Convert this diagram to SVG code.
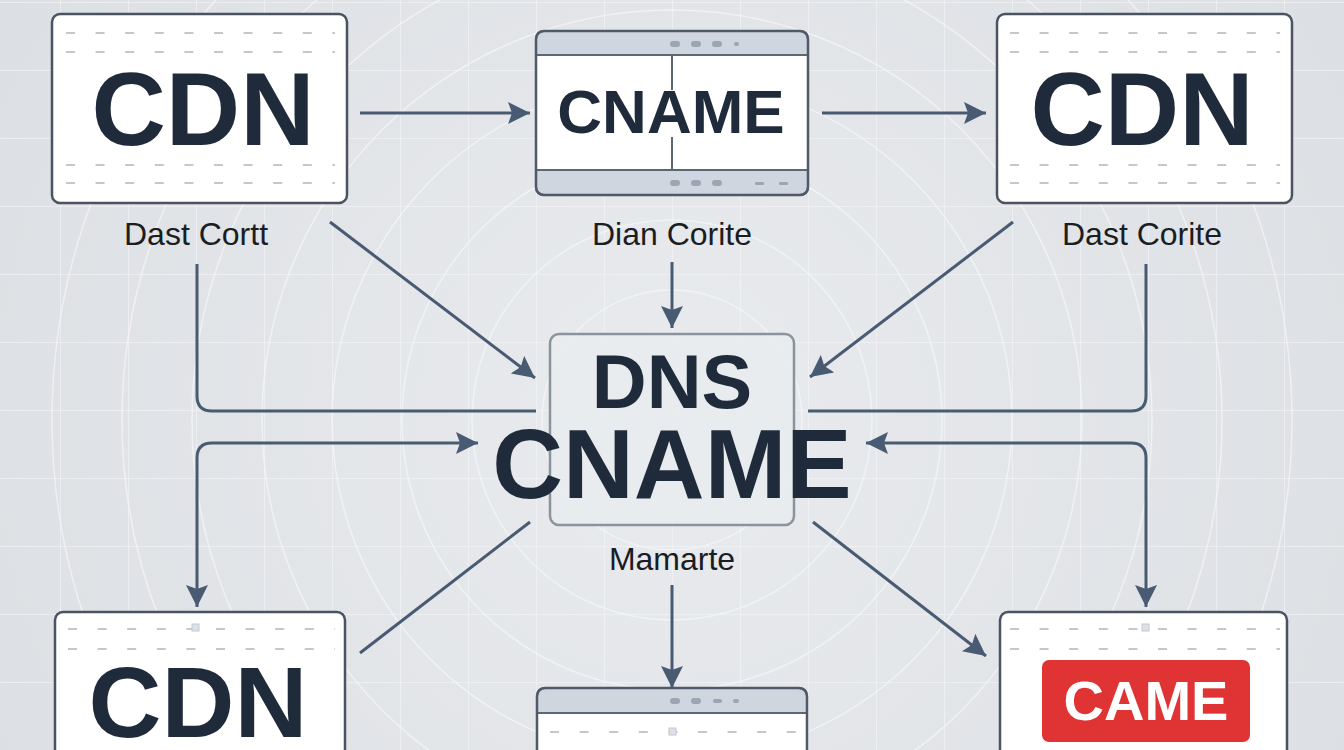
<svg xmlns="http://www.w3.org/2000/svg" width="1344" height="750" viewBox="0 0 1344 750">
<defs>
<radialGradient id="bg" cx="672" cy="420" r="800" gradientUnits="userSpaceOnUse">
<stop offset="0" stop-color="#e9ebee"/>
<stop offset="1" stop-color="#dcdfe3"/>
</radialGradient>
<marker id="ah" markerWidth="24" markerHeight="22" refX="22" refY="11" orient="auto-start-reverse" markerUnits="userSpaceOnUse">
<path d="M0,0 L22,11 L0,22 L4,11 z" fill="#485b72"/>
</marker>
<pattern id="grid" x="-8" y="2" width="68" height="68" patternUnits="userSpaceOnUse">
<path d="M0,0 H68 M0,0 V68" fill="none" stroke="#f4f5f7" stroke-width="1.5" opacity="0.8"/>
</pattern>
</defs>
<style>
.box{fill:#ffffff;stroke:#4a5361;stroke-width:2.5}
.big{font-family:"Liberation Sans",Arial,sans-serif;font-weight:bold;fill:#1f2b3b;text-anchor:middle}
.lbl{font-family:"Liberation Sans",Arial,sans-serif;font-size:32px;fill:#1a1d22;text-anchor:middle}
.dash{stroke:#c3c8cf;stroke-width:2;stroke-dasharray:9 20.6}
.bar{fill:#cfd6df;stroke:#5d6673;stroke-width:2}
.dot{fill:#9ba6b4}
.con{fill:none;stroke:#485b72;stroke-width:3}
.ring{fill:none;stroke:#f6f7f9;stroke-width:1.5;opacity:0.7}
</style>
<rect x="0" y="0" width="1344" height="750" fill="url(#bg)"/>
<rect x="0" y="0" width="1344" height="750" fill="url(#grid)"/>
<g id="rings">
<circle class="ring" cx="672" cy="420" r="130"/>
<circle class="ring" cx="672" cy="420" r="200"/>
<circle class="ring" cx="672" cy="420" r="270"/>
<circle class="ring" cx="672" cy="420" r="340"/>
<circle class="ring" cx="672" cy="420" r="410"/>
<circle class="ring" cx="672" cy="420" r="480"/>
<circle class="ring" cx="672" cy="420" r="550"/>
<circle class="ring" cx="672" cy="420" r="620"/>
</g>

<g id="connectors">
<line class="con" x1="360" y1="113" x2="530" y2="113" marker-end="url(#ah)"/>
<line class="con" x1="822" y1="113" x2="986" y2="113" marker-end="url(#ah)"/>
<line class="con" x1="672" y1="262" x2="672" y2="328" marker-end="url(#ah)"/>
<line class="con" x1="330" y1="222" x2="535" y2="378" marker-end="url(#ah)"/>
<line class="con" x1="1013" y1="222" x2="810" y2="377" marker-end="url(#ah)"/>
<path class="con" d="M197,264 V396 Q197,411 212,411 H536"/>
<path class="con" d="M478,443 H212 Q197,443 197,458 V607" marker-start="url(#ah)" marker-end="url(#ah)"/>
<path class="con" d="M1146,264 V396 Q1146,411 1131,411 H808"/>
<path class="con" d="M866,443 H1131 Q1146,443 1146,458 V607" marker-start="url(#ah)" marker-end="url(#ah)"/>
<line class="con" x1="530" y1="522" x2="360" y2="653"/>
<line class="con" x1="813" y1="522" x2="986" y2="656" marker-end="url(#ah)"/>
<line class="con" x1="672" y1="585" x2="672" y2="688" marker-end="url(#ah)"/>
</g>

<g id="cdn-top-left">
<rect class="box" x="52" y="14" width="295" height="189" rx="8"/>
<line class="dash" x1="66" y1="33" x2="335" y2="33"/>
<line class="dash" x1="66" y1="52" x2="335" y2="52"/>
<line class="dash" x1="66" y1="165" x2="335" y2="165"/>
<line class="dash" x1="66" y1="183" x2="335" y2="183"/>
<text class="big" x="203" y="145" font-size="103">CDN</text>
<text class="lbl" x="196" y="245">Dast Cortt</text>
</g>

<g id="cname-top">
<rect x="536" y="31" width="272" height="164" rx="8" fill="#ffffff"/>
<path class="bar" d="M544,31 H800 Q808,31 808,39 V55 H536 V39 Q536,31 544,31 z"/>
<path class="bar" d="M536,170 H808 V187 Q808,195 800,195 H544 Q536,195 536,187 z"/>
<rect x="536" y="31" width="272" height="164" rx="8" fill="none" stroke="#4f5967" stroke-width="2.5"/>
<line x1="672" y1="55" x2="672" y2="90" stroke="#5d6673" stroke-width="2"/>
<line x1="672" y1="137" x2="672" y2="170" stroke="#5d6673" stroke-width="2"/>
<rect class="dot" x="670" y="41" width="10" height="6" rx="3"/>
<rect class="dot" x="691" y="41" width="10" height="6" rx="3"/>
<rect class="dot" x="712" y="41" width="10" height="6" rx="3"/>
<rect class="dot" x="734" y="42" width="5" height="4" rx="2"/>
<rect class="dot" x="670" y="180" width="10" height="6" rx="3"/>
<rect class="dot" x="691" y="180" width="10" height="6" rx="3"/>
<rect class="dot" x="712" y="180" width="10" height="6" rx="3"/>
<rect class="dot" x="755" y="182" width="9" height="3" rx="1"/>
<rect class="dot" x="779" y="182" width="9" height="3" rx="1"/>
<text class="big" x="671" y="133" font-size="62">CNAME</text>
<text class="lbl" x="672" y="245">Dian Corite</text>
</g>

<g id="cdn-top-right">
<rect class="box" x="997" y="14" width="295" height="189" rx="8"/>
<line class="dash" x1="1010" y1="33" x2="1280" y2="33"/>
<line class="dash" x1="1010" y1="52" x2="1280" y2="52"/>
<line class="dash" x1="1010" y1="165" x2="1280" y2="165"/>
<line class="dash" x1="1010" y1="183" x2="1280" y2="183"/>
<text class="big" x="1142" y="145" font-size="103">CDN</text>
<text class="lbl" x="1142" y="245">Dast Corite</text>
</g>

<g id="dns-cname">
<rect x="550" y="334" width="244" height="191" rx="9" fill="#e9ecef" fill-opacity="0.85" stroke="#8b939d" stroke-width="2.5"/>
<text class="big" x="672" y="408" font-size="76">DNS</text>
<text class="big" x="672" y="498" font-size="98">CNAME</text>
<text class="lbl" x="672" y="570">Mamarte</text>
</g>

<g id="cdn-bottom-left">
<rect class="box" x="55" y="612" width="290" height="160" rx="8"/>
<line class="dash" x1="68" y1="629" x2="335" y2="629"/>
<line class="dash" x1="68" y1="649" x2="335" y2="649"/>
<rect x="192" y="624" width="7" height="7" fill="#dde1e6" stroke="#c3c8cf"/>
<text class="big" x="198" y="737" font-size="101">CDN</text>
</g>

<g id="window-bottom">
<rect x="537" y="688" width="270" height="80" rx="8" fill="#ffffff"/>
<path class="bar" d="M545,688 H799 Q807,688 807,696 V713 H537 V696 Q537,688 545,688 z"/>
<rect x="537" y="688" width="270" height="80" rx="8" fill="none" stroke="#4f5967" stroke-width="2.5"/>
<rect class="dot" x="670" y="698" width="10" height="6" rx="3"/>
<rect class="dot" x="691" y="698" width="10" height="6" rx="3"/>
<rect class="dot" x="713" y="699" width="9" height="4" rx="2"/>
<rect class="dot" x="733" y="699" width="6" height="4" rx="2"/>
<line class="dash" x1="550" y1="732" x2="800" y2="732"/>
<rect x="669" y="728" width="7" height="7" fill="#dde1e6" stroke="#c3c8cf"/>
</g>

<g id="came-bottom-right">
<rect class="box" x="1000" y="612" width="287" height="160" rx="8"/>
<line class="dash" x1="1010" y1="629" x2="1280" y2="629"/>
<line class="dash" x1="1010" y1="649" x2="1280" y2="649"/>
<rect x="1142" y="624" width="7" height="7" fill="#dde1e6" stroke="#c3c8cf"/>
<rect x="1042" y="660" width="208" height="82" rx="7" fill="#e03434"/>
<text class="big" x="1146" y="720" font-size="56" style="fill:#ffffff">CAME</text>
</g>
</svg>
